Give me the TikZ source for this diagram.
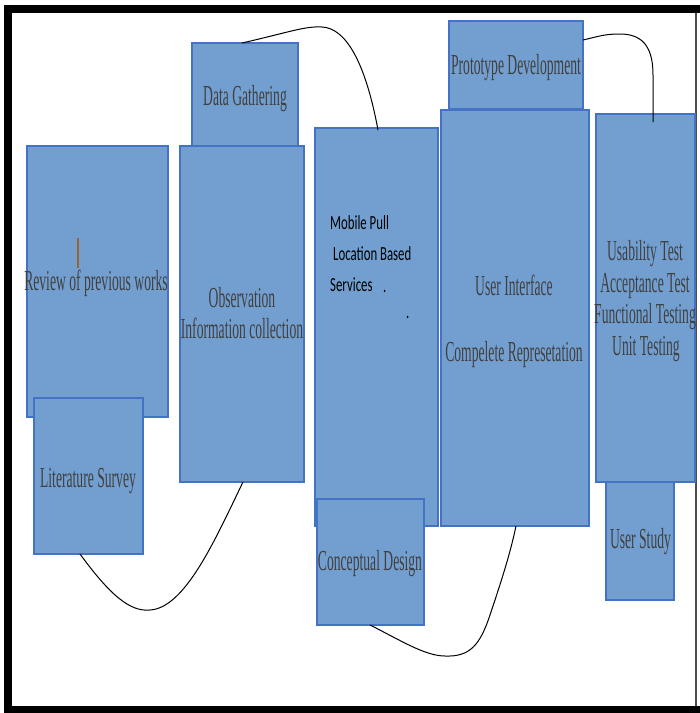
\documentclass[tikz,border=0pt]{standalone}
\usepackage{fontspec}
\newfontfamily\boxfont[FakeStretch=0.47]{Liberation Serif}
\newfontfamily\mobfont[FakeStretch=0.64]{Carlito}
\usetikzlibrary{calc}
\definecolor{boxfill}{RGB}{114,159,207}
\definecolor{boxline}{RGB}{68,114,196}
\definecolor{txt}{RGB}{64,64,64}
\definecolor{cursorc}{RGB}{150,100,50}
\tikzset{
 blk/.style={draw=boxline, fill=boxfill, line width=1.1pt, inner sep=0pt, outer sep=0pt},
 lbl/.style={text=txt, font=\boxfont\fontsize{29}{31}\selectfont, anchor=base, inner sep=0pt},
 mlbl/.style={text=black, font=\mobfont\fontsize{20}{22}\selectfont, anchor=base west, inner sep=0pt},
 link/.style={draw=black, line width=1pt}
}
\begin{document}
\begin{tikzpicture}[x=1pt,y=-1pt]
\useasboundingbox (0,0) rectangle (700,713);
% frame
\fill[black] (4,5) rectangle (700,13);
\fill[black] (4,5) rectangle (12,713);
\fill[black] (4,706) rectangle (700,713);
\draw[black!70, line width=1.5pt] (696,13) -- (696,706);

% boxes
\node[blk, minimum width=141, minimum height=271] (rev) at (97.5,281.5) {};
\node[blk, minimum width=109, minimum height=156] (lit) at (88.5,476) {};
\node[blk, minimum width=106, minimum height=103] (dg) at (245,94.5) {};
\node[blk, minimum width=124, minimum height=336] (obs) at (242,314) {};
\node[blk, minimum width=123, minimum height=398] (mob) at (376.5,327) {};
\node[blk, minimum width=107, minimum height=126] (cd) at (370.5,562) {};
\node[blk, minimum width=134, minimum height=88] (pd) at (516,65) {};
\node[blk, minimum width=148, minimum height=416] (ui) at (515,318) {};
\node[blk, minimum width=68, minimum height=118] (us) at (640,541) {};
\node[blk, minimum width=99, minimum height=368] (tst) at (645.5,298) {};

% labels
\node[lbl] (tdg) at (245,105) {Data Gathering};
\draw[cursorc, line width=1.5pt] (78,238) -- (78,268);
\node[lbl] (trev) at (96,290) {Review of previous works};
\node[lbl] (tobs1) at (242,307) {Observation};
\node[lbl] (tobs2) at (242,338) {Information collection};
\node[lbl] (tlit) at (88,487) {Literature Survey};
\node[lbl] (tcd) at (370,570) {Conceptual Design};
\node[lbl] (tpd) at (516,74) {Prototype Development};
\node[lbl] (tui1) at (514,295) {User Interface};
\node[lbl] (tui2) at (514,361) {Compelete Represetation};
\node[lbl] (tt1) at (645,260) {Usability Test};
\node[lbl] (tt2) at (645,292) {Acceptance Test};
\node[lbl] (tt3) at (645,323) {Functional Testing};
\node[lbl] (tt4) at (646,355) {Unit Testing};
\node[lbl] (tus) at (640.5,548) {User Study};
\node[mlbl] (tm1) at (330,229) {Mobile Pull};
\node[mlbl] (tm2) at (333,260) {Location Based};
\node[mlbl] (tm3) at (330,291) {Services};
\node[mlbl] (tm4) at (383,292) {.};
\node[mlbl] (tm5) at (406,318) {.};

% connectors
\draw[link] ($(dg.north)+(-3,0)$) .. controls (290,32) and (305,26) .. (322,27)
  .. controls (345,28) and (365,60) .. ($(mob.north)+(1.5,2)$);
\draw[link] ($(pd.east)+(0,-25)$) .. controls (600,36) and (605,34) .. (620,34)
  .. controls (645,34) and (653,50) .. (653,75) -- ($(tst.north)+(7.5,8)$);
\draw[link] ($(lit.south)+(-8.5,0)$) .. controls (110,595) and (130,612) .. (150,610)
  .. controls (185,608) and (215,540) .. ($(obs.south)+(1,0)$);
\draw[link] ($(cd.south)+(-0.5,0)$) .. controls (400,640) and (425,656) .. (445,656)
  .. controls (470,657) and (480,645) .. (490,615)
  .. controls (500,585) and (510,555) .. ($(ui.south)+(1,0)$);
\end{tikzpicture}
\end{document}
